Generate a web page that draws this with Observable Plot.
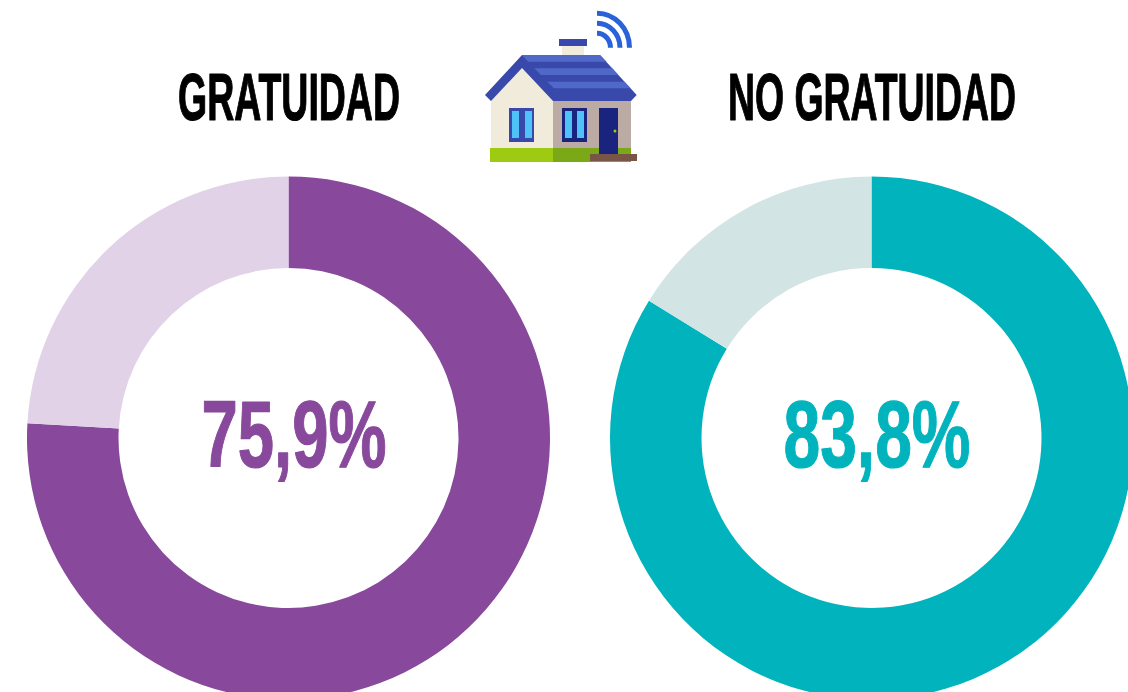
<!DOCTYPE html>
<html>
<head>
<meta charset="utf-8">
<script src="https://cdn.jsdelivr.net/npm/d3@7"></script>
<script src="https://cdn.jsdelivr.net/npm/@observablehq/plot@0.6"></script>
<style>
html,body{margin:0;padding:0;background:#fff;width:1128px;height:692px;overflow:hidden}
#stage{position:relative;width:1128px;height:692px;overflow:hidden}
#stage>svg.chart{position:absolute;left:-3.5px;top:0;max-width:none!important;width:1166px!important;height:692px!important;background:transparent}
#house{position:absolute;left:470px;top:0}
</style>
</head>
<body>
<div id="stage"></div>
<script>
const groups = ["GRATUIDAD", "NO GRATUIDAD"];
const shares = [75.9, 83.8];
const shareColors = ["#88489b", "#00b3bc"];
const restColors = ["#e1d2e8", "#d2e5e4"];

const slices = groups.flatMap((g, i) => [
  {group: g, part: g + " sí", from: 0, to: shares[i]},
  {group: g, part: g + " no", from: shares[i], to: 100}
]);
const labels = groups.map((g, i) => ({
  group: g,
  part: g + " sí",
  text: shares[i].toFixed(1).replace(".", ",") + "%"
}));

const innerRadius = 170, outerRadius = 261.5;

function donut(index, scales, values, dimensions) {
  const {width, height, marginLeft, marginRight, marginTop, marginBottom} = dimensions;
  const cx = (marginLeft + width - marginRight) / 2;
  const cy = (marginTop + height - marginBottom) / 2;
  const arc = d3.arc().innerRadius(innerRadius).outerRadius(outerRadius);
  const g = d3.create("svg:g").attr("transform", `translate(${cx},${cy})`);
  for (const i of index) {
    g.append("path")
      .attr("d", arc({startAngle: values.x1[i], endAngle: values.x2[i]}))
      .attr("fill", values.fill[i]);
  }
  return g.node();
}

const textFont = "'Liberation Sans Narrow','Liberation Sans',sans-serif";

const chart = Plot.plot({
  width: 1166,
  height: 692,
  marginLeft: 0, marginRight: 0, marginTop: 184, marginBottom: 0,
  style: {background: "transparent"},
  className: "chart",
  x: {domain: [0, 100], range: [0, 2 * Math.PI], axis: null},
  fx: {domain: groups, padding: 0, axis: null},
  color: {
    type: "ordinal",
    domain: groups.flatMap(g => [g + " sí", g + " no"]),
    range: groups.flatMap((g, i) => [shareColors[i], restColors[i]])
  },
  marks: [
    Plot.barX(slices, {fx: "group", x1: "from", x2: "to", fill: "part", render: donut}),
    Plot.text(groups, {
      fx: d => d, text: d => d, frameAnchor: "top", dy: -111,
      fontSize: 66, fontWeight: 700, fontFamily: textFont, fill: "#000", stroke: "#000", strokeWidth: 1.2
    }),
    Plot.text(labels, {
      fx: "group", text: "text", frameAnchor: "middle", dx: 5, dy: -2,
      fontSize: 95, fontWeight: 700, fontFamily: textFont, fill: "part", stroke: "part", strokeWidth: 1.2
    })
  ]
});

const stage = document.getElementById("stage");
stage.appendChild(chart);

const textWidths = {"GRATUIDAD": 222, "NO GRATUIDAD": 288, "75,9%": 185, "83,8%": 187};
d3.select(chart).selectAll("text").each(function () {
  const w = textWidths[this.textContent];
  if (!w) return;
  const natural = this.getComputedTextLength();
  const t = this.getAttribute("transform") || "";
  this.setAttribute("transform", `${t} scale(${w / natural},1)`);
});

const ns = `
<svg id="house" xmlns="http://www.w3.org/2000/svg" width="180" height="170" viewBox="0 0 180 170">
  <rect x="92" y="44" width="22" height="14" fill="#f1ebdb"/>
  <rect x="89" y="39" width="28" height="7" fill="#3949ab"/>
  <polygon points="21,101 52,68 83,101 83,148 21,148" fill="#f1ebdb"/>
  <rect x="83" y="100" width="78" height="48" fill="#bcaaa4"/>
  <rect x="20" y="148" width="63" height="14" fill="#9ecb12"/>
  <rect x="83" y="148" width="78" height="14" fill="#7aa816"/>
  <polygon points="52,55 130,55 166.7,95 161,101 83,101 52,68 21,101 15,95" fill="#3949ab"/>
  <polygon points="51.7,55 130,55 136.7,61.7 58.3,61.7" fill="#5069c8"/>
  <polygon points="64.3,68.3 142.3,68.3 148.4,75 71,75" fill="#5069c8"/>
  <polygon points="77.3,81.7 154.5,81.7 160.7,88.3 84,88.3" fill="#5069c8"/>
  <rect x="39" y="108" width="25" height="34" fill="#3949ab"/>
  <rect x="42" y="111" width="7" height="27" fill="#4fc3f7"/>
  <rect x="55" y="111" width="7" height="27" fill="#4fc3f7"/>
  <rect x="92" y="108" width="25" height="34" fill="#1a237e"/>
  <rect x="95" y="111" width="7" height="27" fill="#4fc3f7"/>
  <rect x="107" y="111" width="7" height="27" fill="#4fc3f7"/>
  <rect x="129" y="108" width="19" height="46" fill="#1a237e"/>
  <circle cx="145" cy="131" r="1.5" fill="#9ecb12"/>
  <rect x="120" y="154" width="47" height="7" fill="#795548"/>
  <g fill="none" stroke="#2962d9" stroke-width="5">
    <path d="M127,33.2 A13.5,14.5 0 0 1 140.5,47.7"/>
    <path d="M127,23.2 A23,24.5 0 0 1 150,47.7"/>
    <path d="M127,13.2 A32.5,34.5 0 0 1 159.5,47.7"/>
  </g>
</svg>`;
stage.insertAdjacentHTML("beforeend", ns);
</script>
</body>
</html>
